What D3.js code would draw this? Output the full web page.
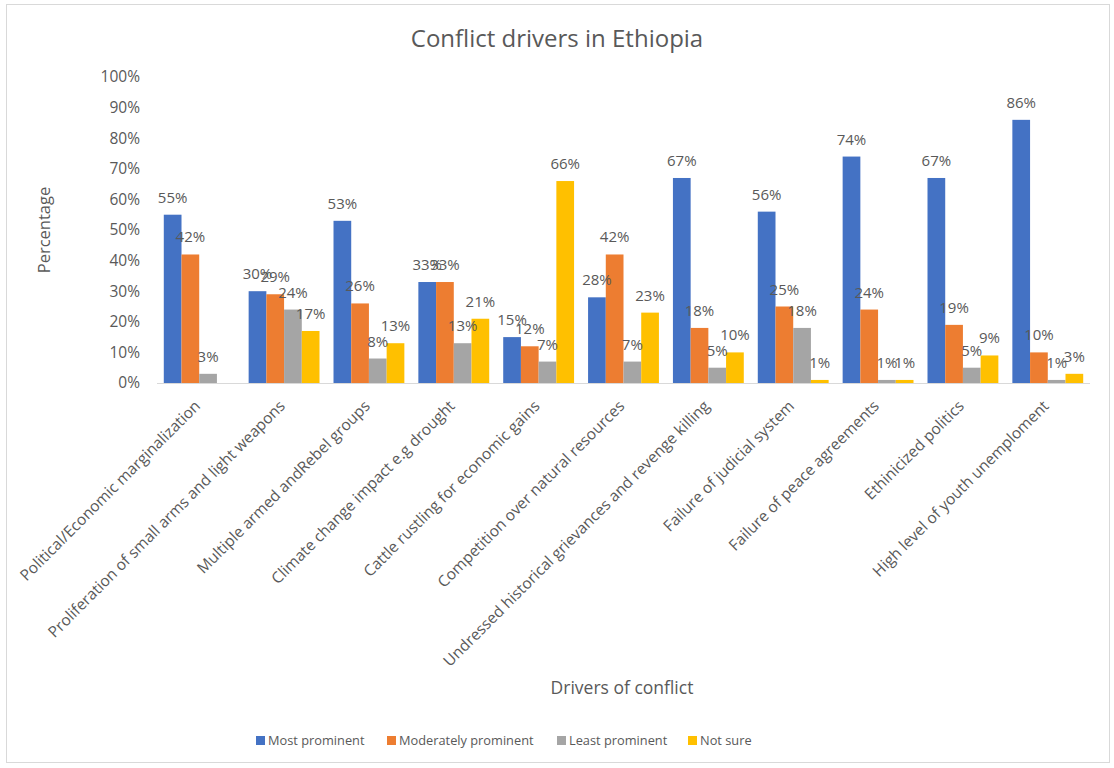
<!DOCTYPE html>
<html>
<head>
<meta charset="utf-8">
<script src="https://cdn.jsdelivr.net/npm/d3@7"></script>
<style>
  html, body { margin: 0; padding: 0; background: #fff; }
  svg text { font-family: "Open Sans", "Noto Sans", sans-serif; fill: #595959; }
</style>
</head>
<body>
<svg id="chart" width="1114" height="768"></svg>
<script>
// Conflict drivers and survey responses (percent)
const categories = [
  "Political/Economic marginalization",
  "Proliferation of small arms and light weapons",
  "Multiple armed andRebel groups",
  "Climate change impact e.g drought",
  "Cattle rustling for economic gains",
  "Competition over natural resources",
  "Undressed historical grievances and revenge killing",
  "Failure of judicial system",
  "Failure of peace agreements",
  "Ethinicized politics",
  "High level of youth unemploment"
];
const seriesNames = ["Most prominent", "Moderately prominent", "Least prominent", "Not sure"];
const mostProminent       = [55, 30, 53, 33, 15, 28, 67, 56, 74, 67, 86];
const moderatelyProminent = [42, 29, 26, 33, 12, 42, 18, 25, 24, 19, 10];
const leastProminent      = [3, 24, 8, 13, 7, 7, 5, 18, 1, 5, 1];
const notSure             = [null, 17, 13, 21, 66, 23, 10, 1, 1, 9, 3];
const yTicks = [0, 10, 20, 30, 40, 50, 60, 70, 80, 90, 100];
const colors = ["#4472C4", "#ED7D31", "#A5A5A5", "#FFC000"];

const seriesValues = [mostProminent, moderatelyProminent, leastProminent, notSure];

const svg = d3.select("#chart");

// outer frame
svg.append("rect")
  .attr("x", 6.5).attr("y", 4.5).attr("width", 1103).attr("height", 758)
  .attr("fill", "#fff").attr("stroke", "#d9d9d9").attr("stroke-width", 1);

const plot = { left: 157, right: 1090, top: 77, bottom: 383 };

const x = d3.scaleBand().domain(categories)
  .range([plot.left, plot.right]).paddingInner(0.165).paddingOuter(0.08);
const xs = d3.scaleBand().domain(seriesNames).range([0, x.bandwidth()]);
const y = d3.scaleLinear().domain([0, 100]).range([plot.bottom, plot.top]);

// title
svg.append("text")
  .attr("x", 557).attr("y", 47).attr("text-anchor", "middle")
  .style("font-size", "24px").text("Conflict drivers in Ethiopia");

// y axis tick labels
const yAxis = d3.axisLeft(y).tickValues(yTicks).tickFormat(d => d + "%").tickSize(0).tickPadding(0);
const yg = svg.append("g").attr("transform", `translate(140,0)`).call(yAxis);
yg.select(".domain").remove();
yg.selectAll("text").style("font-size", "15.5px").style("font-family", null).attr("fill", null);

// baseline
svg.append("line")
  .attr("x1", plot.left).attr("x2", plot.right)
  .attr("y1", y(0) + 0.5).attr("y2", y(0) + 0.5)
  .attr("stroke", "#d9d9d9").attr("stroke-width", 1);

// bars
const rows = [];
categories.forEach((c, i) => {
  seriesNames.forEach((s, j) => {
    rows.push({ cat: c, series: s, value: seriesValues[j][i], color: colors[j] });
  });
});
const valid = rows.filter(d => d.value !== null);

svg.append("g").selectAll("rect")
  .data(valid).join("rect")
  .attr("x", d => x(d.cat) + xs(d.series))
  .attr("y", d => y(d.value))
  .attr("width", xs.bandwidth())
  .attr("height", d => y(0) - y(d.value))
  .attr("fill", d => d.color);

// value labels
svg.append("g").selectAll("text")
  .data(valid).join("text")
  .attr("x", d => x(d.cat) + xs(d.series) + xs.bandwidth() / 2)
  .attr("y", d => y(d.value) - 12)
  .attr("text-anchor", "middle")
  .style("font-size", "15px")
  .text(d => d.value + "%");

// category labels
svg.append("g").selectAll("text")
  .data(categories).join("text")
  .attr("transform", d => `translate(${x(d) + x.bandwidth() / 2 + 2},${plot.bottom + 24}) rotate(-45)`)
  .attr("text-anchor", "end")
  .style("font-size", "15.5px")
  .text(d => d);

// axis titles
svg.append("text")
  .attr("transform", `translate(50,${(plot.top + plot.bottom) / 2}) rotate(-90)`)
  .attr("text-anchor", "middle").style("font-size", "16.5px").text("Percentage");
svg.append("text")
  .attr("x", 622).attr("y", 694).attr("text-anchor", "middle")
  .style("font-size", "17.5px").text("Drivers of conflict");

// legend
const legendX = [256, 387, 557, 688];
const lg = svg.append("g").selectAll("g").data(seriesNames).join("g")
  .attr("transform", (d, i) => `translate(${legendX[i]},740)`);
lg.append("rect").attr("x", 0).attr("y", -4).attr("width", 9).attr("height", 9)
  .attr("fill", (d, i) => colors[i]);
lg.append("text").attr("x", 12).attr("y", 5).style("font-size", "12.8px").text(d => d);
</script>
</body>
</html>
